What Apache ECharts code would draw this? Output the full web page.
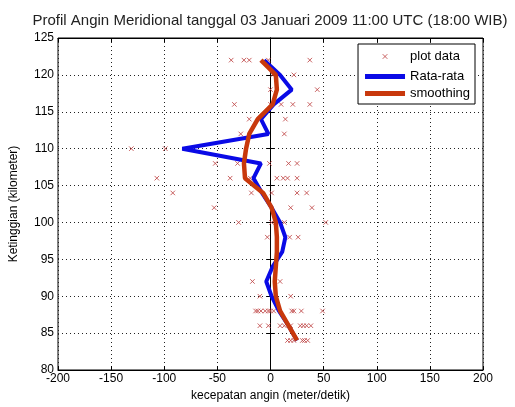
<!DOCTYPE html>
<html>
<head>
<meta charset="utf-8">
<script src="https://cdn.jsdelivr.net/npm/echarts@6/dist/echarts.min.js"></script>
<style>
html, body { margin: 0; padding: 0; background: #fff; }
#chart { width: 515px; height: 407px; }
</style>
</head>
<body>
<div id="chart"></div>
<script>
// ketinggian (km) untuk garis rata-rata dan smoothing
const heights = [84, 86, 88, 90, 92, 94, 96, 98, 100, 102, 104, 106, 108, 110, 112, 114, 116, 118, 120, 122];
const rataRata = [25, 17, 8, 1, -4, 2, 11, 14, 9, 1, -8, -16, -9, -83, -2, -9, 3, 20, 9, -6];
const smoothing = [25, 17, 9, 5, 4, 5, 6, 6, 5, 1, -7, -24, -25, -23, -20, -12, 2, 6, 5, -9];

// titik data mentah
const pointHeight = [
    122, 122, 122, 122, 122,
    120, 120,
    118, 118,
    116, 116, 116, 116, 116,
    114, 114,
    112, 112,
    110, 110,
    108, 108, 108, 108, 108,
    106, 106, 106, 106, 106, 106, 106,
    104, 104, 104, 104, 104,
    102, 102, 102,
    100, 100, 100, 100,
    98, 98, 98,
    92, 92,
    90, 90,
    88, 88, 88, 88, 88, 88, 88, 88, 88, 88, 88,
    86, 86, 86, 86, 86, 86, 86, 86, 86,
    84, 84, 84, 84, 84, 84
];
const pointSpeed = [
    -37, -25, -20, -2, 37,
    2, 22,
    0, 44,
    -34, 0, 10, 21, 37,
    -20, 14,
    -28, 13,
    -131, -99,
    -52, -31, -1, 17, 25,
    -107, -38, -19, 6, 12, 16, 25,
    -92, -18, 1, 25, 34,
    -53, 19, 39,
    -30, 1, 13, 52,
    -3, 18, 26,
    -17, 9,
    -10, 19,
    -14, -12, -9, -5, -2, 0, 3, 20, 22, 29, 49,
    -10, -2, 9, 13, 19, 28, 31, 34, 38,
    16, 19, 22, 30, 32, 35
];

const xTicks = [-200, 200, 50];
const yTicks = [80, 125, 5];

let chart = echarts.init(document.getElementById('chart'));

let scatterData = pointSpeed.map((v, i) => [v, pointHeight[i]]);
let avgData = rataRata.map((v, i) => [v, heights[i]]);
let smoothData = smoothing.map((v, i) => [v, heights[i]]);

const cross = 'path://M0,0L10,10M10,0L0,10';
// ikon legenda: silang kecil dengan ruang kosong di sekitarnya, dan garis tebal
const crossIcon = 'path://M-10,-10M0,0L10,10M10,0L0,10M20,20';
const lineIcon = 'path://M0,0H40V5H0Z';
const fontFam = '"Liberation Sans", Arial, sans-serif';

const gridLine = { show: true, lineStyle: { color: '#222', type: [1, 3], width: 1 } };

const option = {
    animation: false,
    backgroundColor: '#fff',
    title: {
        text: 'Profil Angin Meridional tanggal 03 Januari 2009 11:00 UTC (18:00 WIB)',
        left: 265,
        textAlign: 'center',
        top: 8,
        textStyle: { fontFamily: fontFam, fontSize: 15, fontWeight: 'normal', color: '#222' }
    },
    legend: {
        right: 40,
        top: 44,
        orient: 'vertical',
        backgroundColor: '#fff',
        borderColor: '#000',
        borderWidth: 1,
        padding: [3, 5, 4, 7],
        itemGap: 4,
        itemWidth: 40,
        itemHeight: 14,
        symbolKeepAspect: true,
        textStyle: { fontFamily: fontFam, fontSize: 13, color: '#000' },
        data: [
            { name: 'plot data', icon: crossIcon, itemStyle: { color: 'none', borderColor: '#c04848', borderWidth: 1 } },
            { name: 'Rata-rata', icon: lineIcon, itemStyle: { color: '#0a0ae6', borderWidth: 0 } },
            { name: 'smoothing', icon: lineIcon, itemStyle: { color: '#c8380c', borderWidth: 0 } }
        ]
    },
    grid: {
        left: 58,
        right: 32,
        top: 38,
        bottom: 34,
        show: true,
        borderColor: '#000',
        borderWidth: 1
    },
    xAxis: [
        {
            type: 'value',
            min: xTicks[0],
            max: xTicks[1],
            interval: xTicks[2],
            name: 'kecepatan angin (meter/detik)',
            nameLocation: 'middle',
            nameGap: 20,
            nameTextStyle: { fontFamily: fontFam, fontSize: 12, color: '#000' },
            axisLine: { show: true, lineStyle: { color: '#000' } },
            axisTick: { show: true, inside: true, length: 4, lineStyle: { color: '#000' } },
            axisLabel: { fontFamily: fontFam, fontSize: 12, color: '#000', margin: 3 },
            splitLine: gridLine
        },
        {
            type: 'value',
            position: 'top',
            min: xTicks[0],
            max: xTicks[1],
            interval: xTicks[2],
            axisLine: { show: true, lineStyle: { color: '#000' } },
            axisTick: { show: true, inside: true, length: 4, lineStyle: { color: '#000' } },
            axisLabel: { show: false },
            splitLine: { show: false }
        }
    ],
    yAxis: [
        {
            type: 'value',
            min: yTicks[0],
            max: yTicks[1],
            interval: yTicks[2],
            name: 'Ketinggian (kilometer)',
            nameLocation: 'middle',
            nameGap: 38,
            nameTextStyle: { fontFamily: fontFam, fontSize: 12, color: '#000' },
            axisLine: { show: true, lineStyle: { color: '#000' } },
            axisTick: { show: true, inside: true, length: 4, lineStyle: { color: '#000' } },
            axisLabel: { fontFamily: fontFam, fontSize: 12, color: '#000', margin: 4 },
            splitLine: gridLine
        },
        {
            type: 'value',
            position: 'right',
            min: yTicks[0],
            max: yTicks[1],
            interval: yTicks[2],
            axisLine: { show: true, lineStyle: { color: '#000' } },
            axisTick: { show: true, inside: true, length: 4, lineStyle: { color: '#000' } },
            axisLabel: { show: false },
            splitLine: { show: false }
        }
    ],
    series: [
        {
            name: 'plot data',
            type: 'scatter',
            symbol: cross,
            symbolSize: 4.5,
            itemStyle: { color: 'none', borderColor: '#c04848', borderWidth: 1, opacity: 0.85 },
            data: scatterData,
            z: 2
        },
        {
            name: 'Rata-rata',
            type: 'line',
            symbol: 'none',
            lineStyle: { color: '#0a0ae6', width: 4 },
            itemStyle: { color: '#0a0ae6' },
            data: avgData,
            z: 3
        },
        {
            name: 'smoothing',
            type: 'line',
            symbol: 'none',
            lineStyle: { color: '#c8380c', width: 4.5 },
            itemStyle: { color: '#c8380c' },
            data: smoothData,
            z: 4
        }
    ]
};

chart.setOption(option);

window.addEventListener('resize', function () {
    chart.resize();
});
</script>
</body>
</html>
